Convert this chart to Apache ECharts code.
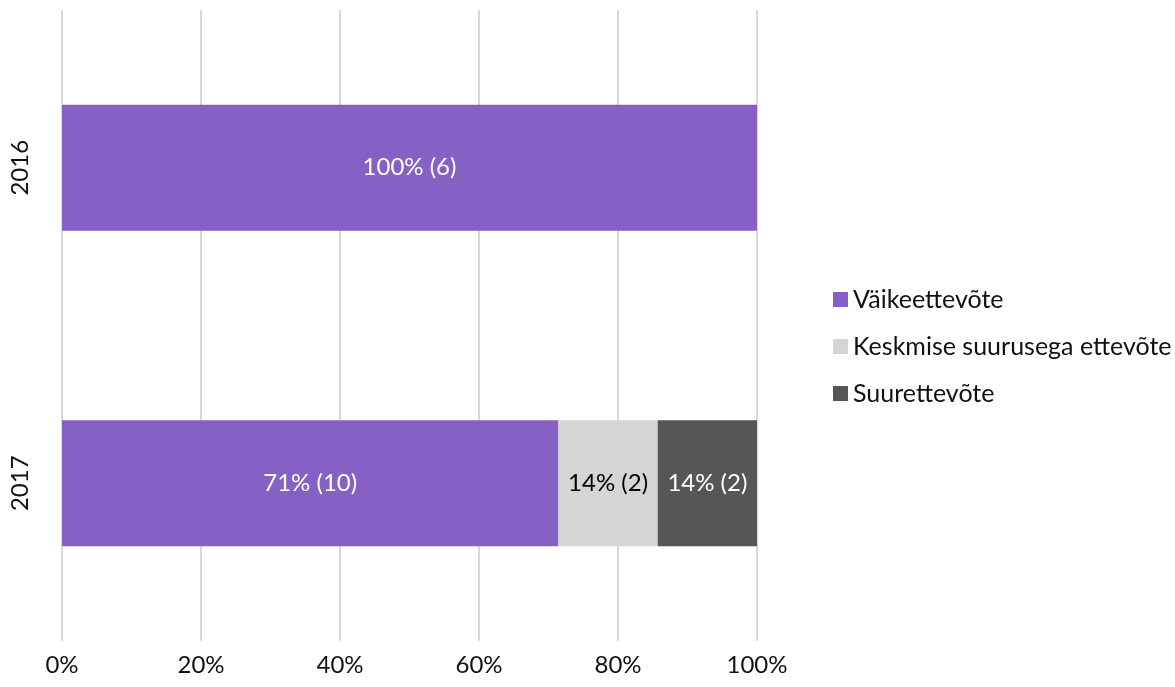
<!DOCTYPE html>
<html>
<head>
<meta charset="utf-8">
<script src="https://cdn.jsdelivr.net/npm/echarts@6/dist/echarts.min.js"></script>
<style>
  html, body { margin: 0; padding: 0; background: #fff; }
  #chart { width: 1175px; height: 687px; }
</style>
</head>
<body>
<div id="chart"></div>
<script>
// Years shown on the category axis (top to bottom)
const years = ['2016', '2017'];
// Company counts per size class and year
const seriesNames = ['Väikeettevõte', 'Keskmise suurusega ettevõte', 'Suurettevõte'];
const smallCounts = [6, 10];
const mediumCounts = [0, 2];
const largeCounts = [0, 2];
const xTicks = ['0%', '20%', '40%', '60%', '80%', '100%'];

const counts = [smallCounts, mediumCounts, largeCounts];
const colors = ['#8561C5', '#D5D5D5', '#565656'];
const labelColors = ['#ffffff', '#000000', '#ffffff'];
const totals = years.map((_, i) => counts.reduce((s, arr) => s + arr[i], 0));
const FONT = 'Lato, "Open Sans", sans-serif';
const FS = 24;

const chart = echarts.init(document.getElementById('chart'), null, { renderer: 'canvas' });

const series = counts.map((arr, si) => ({
  name: seriesNames[si],
  type: 'bar',
  stack: 'total',
  barWidth: '40%',
  itemStyle: { color: colors[si] },
  data: arr.map((c, i) => ({ value: c / totals[i] * 100, count: c })),
  label: {
    show: true,
    position: 'inside',
    color: labelColors[si],
    fontFamily: FONT,
    fontSize: FS,
    formatter: p => p.data.count === 0 ? '' : Math.round(p.value) + '% (' + p.data.count + ')'
  },
  emphasis: { disabled: true }
}));

chart.setOption({
  animation: false,
  grid: { left: 62, right: 418, top: 10, bottom: 46, containLabel: false },
  legend: {
    orient: 'vertical',
    left: 828,
    top: 282,
    itemWidth: 15,
    itemHeight: 15,
    itemGap: 22,
    icon: 'rect',
    textStyle: { fontFamily: FONT, fontSize: 25, color: '#111' },
    data: seriesNames
  },
  xAxis: {
    type: 'value',
    min: 0,
    max: 100,
    interval: 20,
    axisLine: { show: false },
    axisTick: { show: false },
    splitLine: { lineStyle: { color: '#D9D9D9', width: 2 } },
    axisLabel: {
      fontFamily: FONT,
      fontSize: FS,
      color: '#111',
      margin: 12,
      formatter: v => xTicks[Math.round(v / 20)]
    }
  },
  yAxis: {
    type: 'category',
    inverse: true,
    data: years,
    axisLine: { show: false },
    axisTick: { show: false },
    axisLabel: {
      rotate: 90,
      fontFamily: FONT,
      fontSize: FS,
      color: '#111',
      margin: 30
    }
  },
  series: series
});
</script>
</body>
</html>
